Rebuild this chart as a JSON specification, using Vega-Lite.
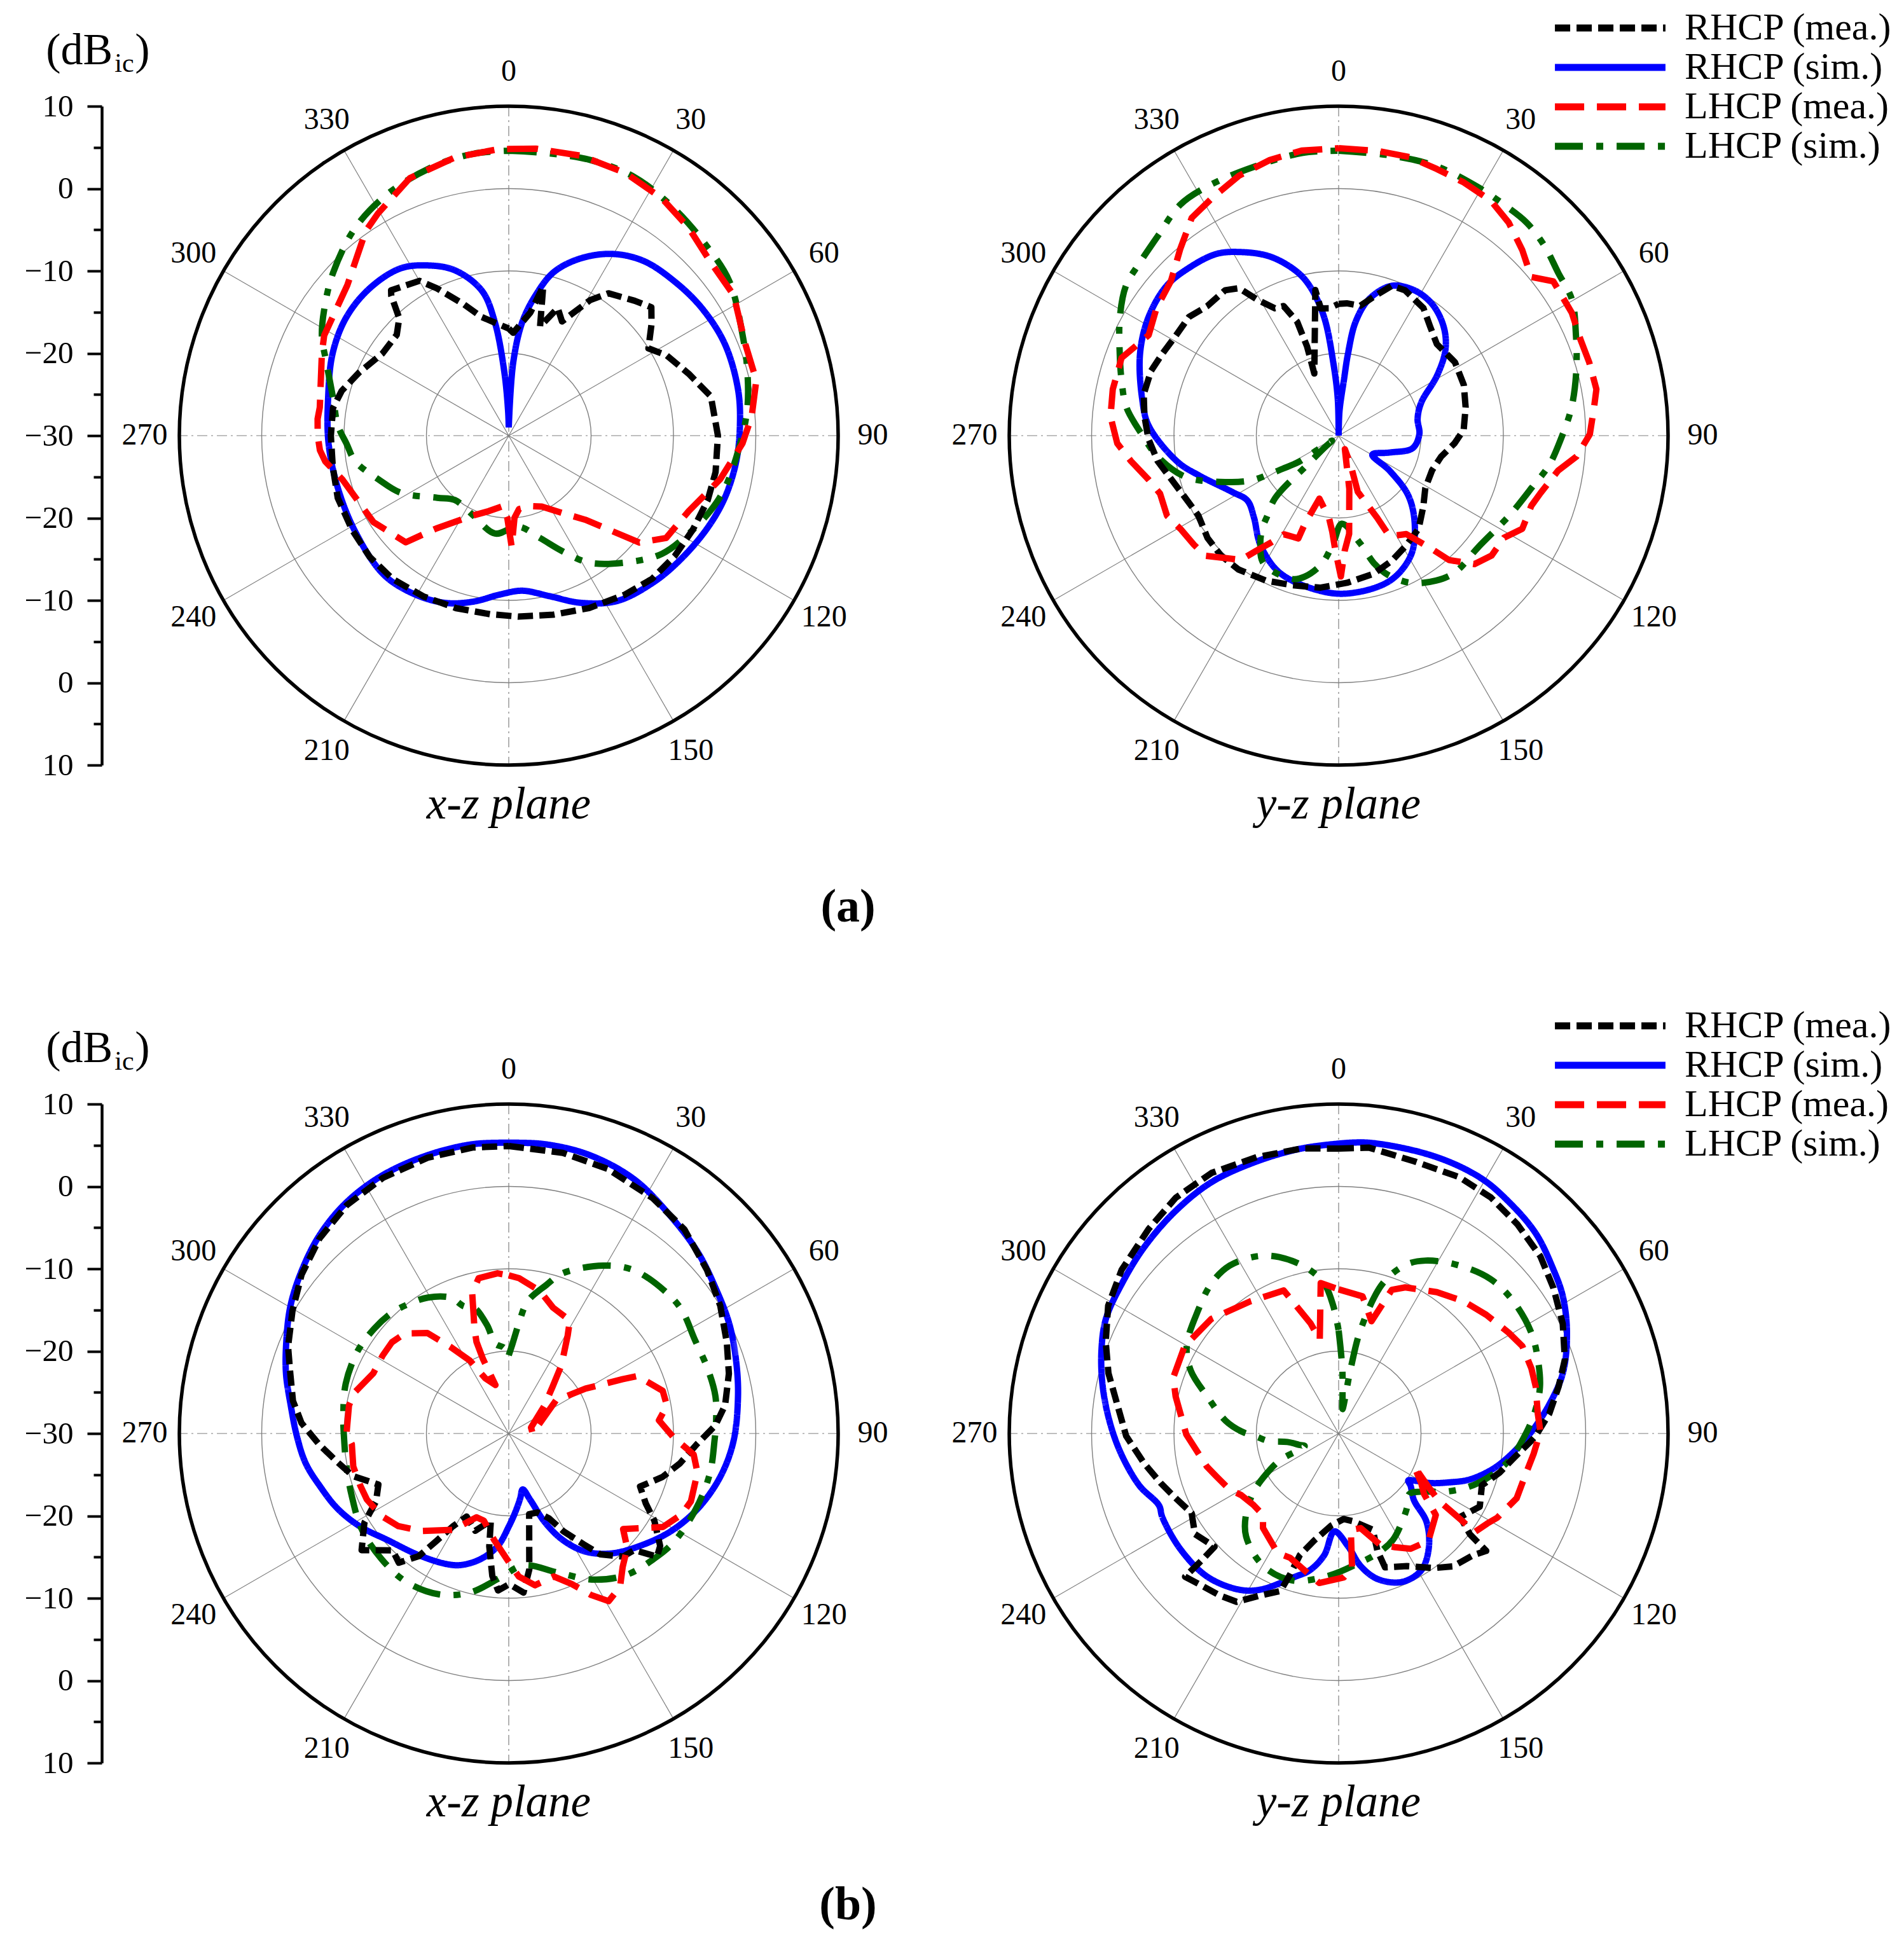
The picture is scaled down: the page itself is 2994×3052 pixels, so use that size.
{
"$schema":"https://vega.github.io/schema/vega-lite/v6.json",
"autosize":{"type":"none"},
"padding":{"left":282,"top":167,"right":2712,"bottom":2885},
"background":"white",
"config":{"view":{"stroke":null},"font":"Liberation Serif"},
"datasets":{
"rings":[{"r":10},{"r":20},{"r":30}],
"outer":[{"r":40}],
"spokes":[{"a":0},{"a":30},{"a":60},{"a":90},{"a":120},{"a":150}],
"ticks":[{"a":0},{"a":30},{"a":60},{"a":90},{"a":120},{"a":150},{"a":210},{"a":240},{"a":270},{"a":300},{"a":330}],
"curves":[
{"p":"a1","s":"Rs","a":0,"v":-29},{"p":"a1","s":"Rs","a":3.5,"v":-21.1},{"p":"a1","s":"Rs","a":6.8,"v":-16.1},{"p":"a1","s":"Rs","a":10.9,"v":-12.6},{"p":"a1","s":"Rs","a":15.4,"v":-9.4},{"p":"a1","s":"Rs","a":22,"v":-6.8},{"p":"a1","s":"Rs","a":29.7,"v":-4.6},{"p":"a1","s":"Rs","a":37.7,"v":-3.2},{"p":"a1","s":"Rs","a":47.2,"v":-2.5},{"p":"a1","s":"Rs","a":56.6,"v":-1.9},{"p":"a1","s":"Rs","a":67,"v":-1.5},{"p":"a1","s":"Rs","a":78.6,"v":-1.6},{"p":"a1","s":"Rs","a":87.4,"v":-1.9},{"p":"a1","s":"Rs","a":96.4,"v":-2.2},{"p":"a1","s":"Rs","a":106,"v":-2.7},{"p":"a1","s":"Rs","a":115,"v":-3.4},{"p":"a1","s":"Rs","a":126,"v":-4.3},{"p":"a1","s":"Rs","a":135.6,"v":-5},{"p":"a1","s":"Rs","a":146.8,"v":-6},{"p":"a1","s":"Rs","a":156.7,"v":-7.9},{"p":"a1","s":"Rs","a":165.8,"v":-9.9},{"p":"a1","s":"Rs","a":175,"v":-11.1},{"p":"a1","s":"Rs","a":183,"v":-10.7},{"p":"a1","s":"Rs","a":192,"v":-9.4},{"p":"a1","s":"Rs","a":200.6,"v":-8.3},{"p":"a1","s":"Rs","a":210.8,"v":-7.6},{"p":"a1","s":"Rs","a":222,"v":-7.3},{"p":"a1","s":"Rs","a":237.5,"v":-8},{"p":"a1","s":"Rs","a":253,"v":-8.3},{"p":"a1","s":"Rs","a":267.6,"v":-8.1},{"p":"a1","s":"Rs","a":281.7,"v":-7.6},{"p":"a1","s":"Rs","a":295,"v":-6.4},{"p":"a1","s":"Rs","a":306,"v":-5.6},{"p":"a1","s":"Rs","a":316.6,"v":-5.4},{"p":"a1","s":"Rs","a":327,"v":-5.8},{"p":"a1","s":"Rs","a":334.5,"v":-7.1},{"p":"a1","s":"Rs","a":342,"v":-8.9},{"p":"a1","s":"Rs","a":349.5,"v":-12.1},{"p":"a1","s":"Rs","a":353,"v":-16.1},{"p":"a1","s":"Rs","a":356,"v":-22.2},{"p":"a1","s":"Rs","a":358.5,"v":-27},{"p":"a1","s":"Rs","a":360,"v":-29},
{"p":"a1","s":"Ls","a":0,"v":4.6},{"p":"a1","s":"Ls","a":7.3,"v":4.6},{"p":"a1","s":"Ls","a":16.4,"v":4.9},{"p":"a1","s":"Ls","a":26,"v":4.9},{"p":"a1","s":"Ls","a":36.3,"v":4.1},{"p":"a1","s":"Ls","a":46,"v":3.3},{"p":"a1","s":"Ls","a":55,"v":2.7},{"p":"a1","s":"Ls","a":66.8,"v":0.9},{"p":"a1","s":"Ls","a":75,"v":0},{"p":"a1","s":"Ls","a":84,"v":-0.9},{"p":"a1","s":"Ls","a":94,"v":-2.1},{"p":"a1","s":"Ls","a":103.7,"v":-3},{"p":"a1","s":"Ls","a":110,"v":-3.8},{"p":"a1","s":"Ls","a":118.5,"v":-5.1},{"p":"a1","s":"Ls","a":127.6,"v":-6.5},{"p":"a1","s":"Ls","a":136,"v":-8.7},{"p":"a1","s":"Ls","a":147.5,"v":-11.7},{"p":"a1","s":"Ls","a":155,"v":-14.5},{"p":"a1","s":"Ls","a":163,"v":-17},{"p":"a1","s":"Ls","a":174,"v":-18.9},{"p":"a1","s":"Ls","a":188,"v":-18},{"p":"a1","s":"Ls","a":204,"v":-19.4},{"p":"a1","s":"Ls","a":220,"v":-19.8},{"p":"a1","s":"Ls","a":229,"v":-18.5},{"p":"a1","s":"Ls","a":242,"v":-15.2},{"p":"a1","s":"Ls","a":251.5,"v":-13.3},{"p":"a1","s":"Ls","a":260.5,"v":-11.1},{"p":"a1","s":"Ls","a":267,"v":-10.3},{"p":"a1","s":"Ls","a":273.5,"v":-9.2},{"p":"a1","s":"Ls","a":282,"v":-8.2},{"p":"a1","s":"Ls","a":292,"v":-6.1},{"p":"a1","s":"Ls","a":298,"v":-4.3},{"p":"a1","s":"Ls","a":304.6,"v":-2.8},{"p":"a1","s":"Ls","a":312.9,"v":-0.9},{"p":"a1","s":"Ls","a":323.7,"v":1.4},{"p":"a1","s":"Ls","a":334,"v":2.9},{"p":"a1","s":"Ls","a":345,"v":4},{"p":"a1","s":"Ls","a":353,"v":4.5},{"p":"a1","s":"Ls","a":360,"v":4.6},
{"p":"a1","s":"Rm","a":0,"v":-17},{"p":"a1","s":"Rm","a":2.5,"v":-17.5},{"p":"a1","s":"Rm","a":10,"v":-14.8},{"p":"a1","s":"Rm","a":13,"v":-11.4},{"p":"a1","s":"Rm","a":16,"v":-16.2},{"p":"a1","s":"Rm","a":21,"v":-13.4},{"p":"a1","s":"Rm","a":25,"v":-14.7},{"p":"a1","s":"Rm","a":31,"v":-10.8},{"p":"a1","s":"Rm","a":35,"v":-8.9},{"p":"a1","s":"Rm","a":43,"v":-7.6},{"p":"a1","s":"Rm","a":48,"v":-6.7},{"p":"a1","s":"Rm","a":52,"v":-8},{"p":"a1","s":"Rm","a":58,"v":-10},{"p":"a1","s":"Rm","a":63,"v":-8.5},{"p":"a1","s":"Rm","a":71,"v":-6.9},{"p":"a1","s":"Rm","a":79,"v":-5},{"p":"a1","s":"Rm","a":90,"v":-4.6},{"p":"a1","s":"Rm","a":100,"v":-4.5},{"p":"a1","s":"Rm","a":108,"v":-4.6},{"p":"a1","s":"Rm","a":117,"v":-4.9},{"p":"a1","s":"Rm","a":126,"v":-5.1},{"p":"a1","s":"Rm","a":135,"v":-5.4},{"p":"a1","s":"Rm","a":144,"v":-6.1},{"p":"a1","s":"Rm","a":155,"v":-6.9},{"p":"a1","s":"Rm","a":166,"v":-7.6},{"p":"a1","s":"Rm","a":177,"v":-8},{"p":"a1","s":"Rm","a":186,"v":-8.2},{"p":"a1","s":"Rm","a":197,"v":-8.1},{"p":"a1","s":"Rm","a":208,"v":-7.9},{"p":"a1","s":"Rm","a":219,"v":-7.6},{"p":"a1","s":"Rm","a":229,"v":-7.6},{"p":"a1","s":"Rm","a":239,"v":-7.8},{"p":"a1","s":"Rm","a":250,"v":-7.9},{"p":"a1","s":"Rm","a":260,"v":-8.3},{"p":"a1","s":"Rm","a":270,"v":-8.4},{"p":"a1","s":"Rm","a":279,"v":-8.4},{"p":"a1","s":"Rm","a":285,"v":-9},{"p":"a1","s":"Rm","a":293,"v":-10.3},{"p":"a1","s":"Rm","a":303,"v":-11.7},{"p":"a1","s":"Rm","a":312,"v":-11.7},{"p":"a1","s":"Rm","a":317,"v":-10.5},{"p":"a1","s":"Rm","a":320,"v":-7.8},{"p":"a1","s":"Rm","a":321,"v":-7.3},{"p":"a1","s":"Rm","a":330,"v":-8.3},{"p":"a1","s":"Rm","a":334,"v":-10.1},{"p":"a1","s":"Rm","a":341,"v":-13.1},{"p":"a1","s":"Rm","a":347,"v":-15.2},{"p":"a1","s":"Rm","a":360,"v":-17},
{"p":"a1","s":"Lm","a":0,"v":4.8},{"p":"a1","s":"Lm","a":5.4,"v":5},{"p":"a1","s":"Lm","a":14.4,"v":5.1},{"p":"a1","s":"Lm","a":24,"v":4.9},{"p":"a1","s":"Lm","a":32.8,"v":4.3},{"p":"a1","s":"Lm","a":40.8,"v":3.4},{"p":"a1","s":"Lm","a":49.6,"v":2.3},{"p":"a1","s":"Lm","a":58,"v":2.2},{"p":"a1","s":"Lm","a":68.9,"v":0.8},{"p":"a1","s":"Lm","a":77.4,"v":0.8},{"p":"a1","s":"Lm","a":85.4,"v":-0.4},{"p":"a1","s":"Lm","a":91.9,"v":-1.6},{"p":"a1","s":"Lm","a":101.7,"v":-3.8},{"p":"a1","s":"Lm","a":112.7,"v":-6.3},{"p":"a1","s":"Lm","a":123,"v":-7.2},{"p":"a1","s":"Lm","a":129.3,"v":-9.5},{"p":"a1","s":"Lm","a":137.7,"v":-16.2},{"p":"a1","s":"Lm","a":145,"v":-18.5},{"p":"a1","s":"Lm","a":155,"v":-20.5},{"p":"a1","s":"Lm","a":162,"v":-21},{"p":"a1","s":"Lm","a":172,"v":-21},{"p":"a1","s":"Lm","a":176,"v":-20},{"p":"a1","s":"Lm","a":178.5,"v":-16.5},{"p":"a1","s":"Lm","a":181,"v":-20},{"p":"a1","s":"Lm","a":185,"v":-21.4},{"p":"a1","s":"Lm","a":195,"v":-20.5},{"p":"a1","s":"Lm","a":204,"v":-19.4},{"p":"a1","s":"Lm","a":218,"v":-15.7},{"p":"a1","s":"Lm","a":224,"v":-12},{"p":"a1","s":"Lm","a":237.4,"v":-10.5},{"p":"a1","s":"Lm","a":255.3,"v":-9.1},{"p":"a1","s":"Lm","a":262,"v":-7.5},{"p":"a1","s":"Lm","a":265.6,"v":-7},{"p":"a1","s":"Lm","a":270,"v":-6.8},{"p":"a1","s":"Lm","a":275,"v":-6.7},{"p":"a1","s":"Lm","a":278.5,"v":-6.8},{"p":"a1","s":"Lm","a":293.8,"v":-5.2},{"p":"a1","s":"Lm","a":298.5,"v":-4.5},{"p":"a1","s":"Lm","a":313,"v":-3.2},{"p":"a1","s":"Lm","a":325,"v":0.3},{"p":"a1","s":"Lm","a":329.5,"v":1.3},{"p":"a1","s":"Lm","a":339,"v":3.5},{"p":"a1","s":"Lm","a":349,"v":4.4},{"p":"a1","s":"Lm","a":357.3,"v":4.75},{"p":"a1","s":"Lm","a":360,"v":4.8},
{"p":"a2","s":"Rs","a":0,"v":-30},{"p":"a2","s":"Rs","a":2,"v":-27},{"p":"a2","s":"Rs","a":5.5,"v":-23},{"p":"a2","s":"Rs","a":6.5,"v":-20},{"p":"a2","s":"Rs","a":8.5,"v":-16},{"p":"a2","s":"Rs","a":12.6,"v":-13},{"p":"a2","s":"Rs","a":19.5,"v":-10.7},{"p":"a2","s":"Rs","a":27.5,"v":-10.1},{"p":"a2","s":"Rs","a":35.4,"v":-10.4},{"p":"a2","s":"Rs","a":43.8,"v":-11.6},{"p":"a2","s":"Rs","a":51,"v":-13.3},{"p":"a2","s":"Rs","a":58.6,"v":-16},{"p":"a2","s":"Rs","a":68.2,"v":-19.2},{"p":"a2","s":"Rs","a":78,"v":-20.2},{"p":"a2","s":"Rs","a":89,"v":-20.2},{"p":"a2","s":"Rs","a":99.7,"v":-20.9},{"p":"a2","s":"Rs","a":108.4,"v":-23.5},{"p":"a2","s":"Rs","a":119.4,"v":-25.3},{"p":"a2","s":"Rs","a":124.5,"v":-22.5},{"p":"a2","s":"Rs","a":130.8,"v":-18.8},{"p":"a2","s":"Rs","a":139.7,"v":-15.7},{"p":"a2","s":"Rs","a":149,"v":-13},{"p":"a2","s":"Rs","a":160.7,"v":-11.3},{"p":"a2","s":"Rs","a":176.9,"v":-10.8},{"p":"a2","s":"Rs","a":188.6,"v":-11.1},{"p":"a2","s":"Rs","a":203.5,"v":-11.9},{"p":"a2","s":"Rs","a":215.7,"v":-13.7},{"p":"a2","s":"Rs","a":226,"v":-15.7},{"p":"a2","s":"Rs","a":234.6,"v":-16.4},{"p":"a2","s":"Rs","a":242,"v":-15.4},{"p":"a2","s":"Rs","a":254,"v":-12.4},{"p":"a2","s":"Rs","a":260.7,"v":-10.2},{"p":"a2","s":"Rs","a":273,"v":-6.9},{"p":"a2","s":"Rs","a":280.8,"v":-5.7},{"p":"a2","s":"Rs","a":292.5,"v":-3.9},{"p":"a2","s":"Rs","a":301.9,"v":-2.8},{"p":"a2","s":"Rs","a":311,"v":-2.3},{"p":"a2","s":"Rs","a":318.3,"v":-2.7},{"p":"a2","s":"Rs","a":326,"v":-3.4},{"p":"a2","s":"Rs","a":331.4,"v":-4.6},{"p":"a2","s":"Rs","a":339,"v":-6.7},{"p":"a2","s":"Rs","a":345.8,"v":-9.5},{"p":"a2","s":"Rs","a":349.3,"v":-11.7},{"p":"a2","s":"Rs","a":353,"v":-15.5},{"p":"a2","s":"Rs","a":355.8,"v":-21.1},{"p":"a2","s":"Rs","a":358.6,"v":-25.5},{"p":"a2","s":"Rs","a":360,"v":-30},
{"p":"a2","s":"Ls","a":0,"v":4.6},{"p":"a2","s":"Ls","a":10.7,"v":4.6},{"p":"a2","s":"Ls","a":20,"v":4.8},{"p":"a2","s":"Ls","a":29,"v":4.6},{"p":"a2","s":"Ls","a":35.6,"v":4.5},{"p":"a2","s":"Ls","a":41.5,"v":4.5},{"p":"a2","s":"Ls","a":47.3,"v":4},{"p":"a2","s":"Ls","a":53.4,"v":3.2},{"p":"a2","s":"Ls","a":59.7,"v":2.8},{"p":"a2","s":"Ls","a":67,"v":1.3},{"p":"a2","s":"Ls","a":74.8,"v":-0.1},{"p":"a2","s":"Ls","a":83,"v":-1.5},{"p":"a2","s":"Ls","a":90.8,"v":-3},{"p":"a2","s":"Ls","a":98,"v":-4.2},{"p":"a2","s":"Ls","a":105,"v":-5.7},{"p":"a2","s":"Ls","a":113.3,"v":-6.9},{"p":"a2","s":"Ls","a":118.3,"v":-7.5},{"p":"a2","s":"Ls","a":128.5,"v":-8.3},{"p":"a2","s":"Ls","a":139.5,"v":-8.2},{"p":"a2","s":"Ls","a":146.1,"v":-8.8},{"p":"a2","s":"Ls","a":153.9,"v":-10.1},{"p":"a2","s":"Ls","a":160.6,"v":-12.1},{"p":"a2","s":"Ls","a":164.3,"v":-13.8},{"p":"a2","s":"Ls","a":168.8,"v":-16.7},{"p":"a2","s":"Ls","a":177.9,"v":-19.3},{"p":"a2","s":"Ls","a":182.8,"v":-17},{"p":"a2","s":"Ls","a":187.5,"v":-14.3},{"p":"a2","s":"Ls","a":193.5,"v":-12.4},{"p":"a2","s":"Ls","a":198,"v":-11.7},{"p":"a2","s":"Ls","a":210.4,"v":-12},{"p":"a2","s":"Ls","a":216.2,"v":-13.9},{"p":"a2","s":"Ls","a":219.6,"v":-15.5},{"p":"a2","s":"Ls","a":221.4,"v":-16.8},{"p":"a2","s":"Ls","a":225.5,"v":-19.2},{"p":"a2","s":"Ls","a":227,"v":-24.7},{"p":"a2","s":"Ls","a":229.8,"v":-27.8},{"p":"a2","s":"Ls","a":233,"v":-29},{"p":"a2","s":"Ls","a":236.3,"v":-27.2},{"p":"a2","s":"Ls","a":236.7,"v":-24.2},{"p":"a2","s":"Ls","a":239,"v":-22.5},{"p":"a2","s":"Ls","a":240.6,"v":-20.8},{"p":"a2","s":"Ls","a":242.9,"v":-18.1},{"p":"a2","s":"Ls","a":247.3,"v":-15.4},{"p":"a2","s":"Ls","a":254.8,"v":-10.8},{"p":"a2","s":"Ls","a":263.3,"v":-7.9},{"p":"a2","s":"Ls","a":270.4,"v":-6.1},{"p":"a2","s":"Ls","a":277.6,"v":-4},{"p":"a2","s":"Ls","a":284.3,"v":-2.8},{"p":"a2","s":"Ls","a":290.6,"v":-1.6},{"p":"a2","s":"Ls","a":298.4,"v":0.2},{"p":"a2","s":"Ls","a":305.2,"v":1.6},{"p":"a2","s":"Ls","a":311,"v":2},{"p":"a2","s":"Ls","a":317.8,"v":2.7},{"p":"a2","s":"Ls","a":325.5,"v":4},{"p":"a2","s":"Ls","a":332,"v":4.2},{"p":"a2","s":"Ls","a":341,"v":4.2},{"p":"a2","s":"Ls","a":352.6,"v":4.6},{"p":"a2","s":"Ls","a":360,"v":4.6},
{"p":"a2","s":"Rm","a":0,"v":-14},{"p":"a2","s":"Rm","a":3.5,"v":-13.9},{"p":"a2","s":"Rm","a":9.5,"v":-14},{"p":"a2","s":"Rm","a":14.2,"v":-12.6},{"p":"a2","s":"Rm","a":19.5,"v":-10.7},{"p":"a2","s":"Rm","a":24.6,"v":-10.6},{"p":"a2","s":"Rm","a":33.6,"v":-11.4},{"p":"a2","s":"Rm","a":39.9,"v":-12.7},{"p":"a2","s":"Rm","a":47,"v":-13.7},{"p":"a2","s":"Rm","a":57.7,"v":-13.3},{"p":"a2","s":"Rm","a":67.9,"v":-13.6},{"p":"a2","s":"Rm","a":77.4,"v":-14.2},{"p":"a2","s":"Rm","a":87.3,"v":-14.8},{"p":"a2","s":"Rm","a":93.8,"v":-15.9},{"p":"a2","s":"Rm","a":101.6,"v":-17.3},{"p":"a2","s":"Rm","a":110.3,"v":-17.9},{"p":"a2","s":"Rm","a":121.2,"v":-17.7},{"p":"a2","s":"Rm","a":129.9,"v":-16.6},{"p":"a2","s":"Rm","a":139.3,"v":-15.1},{"p":"a2","s":"Rm","a":149,"v":-14.3},{"p":"a2","s":"Rm","a":156.9,"v":-13.5},{"p":"a2","s":"Rm","a":165.7,"v":-12.7},{"p":"a2","s":"Rm","a":176.8,"v":-12.1},{"p":"a2","s":"Rm","a":187,"v":-11.4},{"p":"a2","s":"Rm","a":197,"v":-11},{"p":"a2","s":"Rm","a":206.7,"v":-10.3},{"p":"a2","s":"Rm","a":216.8,"v":-9.7},{"p":"a2","s":"Rm","a":224.5,"v":-9.6},{"p":"a2","s":"Rm","a":232,"v":-9.8},{"p":"a2","s":"Rm","a":240.4,"v":-10.4},{"p":"a2","s":"Rm","a":248,"v":-9.9},{"p":"a2","s":"Rm","a":255.4,"v":-9},{"p":"a2","s":"Rm","a":262,"v":-7.8},{"p":"a2","s":"Rm","a":269,"v":-6.9},{"p":"a2","s":"Rm","a":275.7,"v":-6.3},{"p":"a2","s":"Rm","a":282,"v":-5.8},{"p":"a2","s":"Rm","a":289,"v":-5.9},{"p":"a2","s":"Rm","a":295,"v":-6.4},{"p":"a2","s":"Rm","a":301.6,"v":-6.8},{"p":"a2","s":"Rm","a":308.4,"v":-6.8},{"p":"a2","s":"Rm","a":314.6,"v":-7.6},{"p":"a2","s":"Rm","a":322,"v":-7.6},{"p":"a2","s":"Rm","a":326,"v":-8.4},{"p":"a2","s":"Rm","a":329,"v":-10.7},{"p":"a2","s":"Rm","a":333.4,"v":-12.7},{"p":"a2","s":"Rm","a":337,"v":-12.9},{"p":"a2","s":"Rm","a":340,"v":-15.3},{"p":"a2","s":"Rm","a":340.5,"v":-18.5},{"p":"a2","s":"Rm","a":338.6,"v":-21.9},{"p":"a2","s":"Rm","a":350.9,"v":-12.1},{"p":"a2","s":"Rm","a":352,"v":-14.4},{"p":"a2","s":"Rm","a":355.6,"v":-14.5},{"p":"a2","s":"Rm","a":360,"v":-14},
{"p":"a2","s":"Lm","a":0,"v":4.9},{"p":"a2","s":"Lm","a":7.9,"v":4.9},{"p":"a2","s":"Lm","a":14.3,"v":4.9},{"p":"a2","s":"Lm","a":20.2,"v":4.5},{"p":"a2","s":"Lm","a":26.3,"v":4.3},{"p":"a2","s":"Lm","a":32.9,"v":4},{"p":"a2","s":"Lm","a":38.6,"v":3.1},{"p":"a2","s":"Lm","a":44.7,"v":1.7},{"p":"a2","s":"Lm","a":50.5,"v":0.3},{"p":"a2","s":"Lm","a":54.3,"v":2.1},{"p":"a2","s":"Lm","a":62.2,"v":2},{"p":"a2","s":"Lm","a":68.4,"v":1.6},{"p":"a2","s":"Lm","a":73.7,"v":1.7},{"p":"a2","s":"Lm","a":79.8,"v":1.8},{"p":"a2","s":"Lm","a":83.7,"v":1.2},{"p":"a2","s":"Lm","a":89.7,"v":0.5},{"p":"a2","s":"Lm","a":95,"v":-1},{"p":"a2","s":"Lm","a":99,"v":-3},{"p":"a2","s":"Lm","a":105.8,"v":-4.5},{"p":"a2","s":"Lm","a":110,"v":-5.1},{"p":"a2","s":"Lm","a":116.9,"v":-5},{"p":"a2","s":"Lm","a":121.7,"v":-6.4},{"p":"a2","s":"Lm","a":128.1,"v":-6.4},{"p":"a2","s":"Lm","a":133.4,"v":-7.3},{"p":"a2","s":"Lm","a":138.4,"v":-9.8},{"p":"a2","s":"Lm","a":140.6,"v":-12.2},{"p":"a2","s":"Lm","a":145.5,"v":-15.5},{"p":"a2","s":"Lm","a":153.2,"v":-16.3},{"p":"a2","s":"Lm","a":154.9,"v":-19},{"p":"a2","s":"Lm","a":161.2,"v":-22.8},{"p":"a2","s":"Lm","a":158,"v":-26},{"p":"a2","s":"Lm","a":155.2,"v":-28.2},{"p":"a2","s":"Lm","a":168.7,"v":-23.4},{"p":"a2","s":"Lm","a":172.8,"v":-19.8},{"p":"a2","s":"Lm","a":173.9,"v":-18},{"p":"a2","s":"Lm","a":177,"v":-16},{"p":"a2","s":"Lm","a":179.1,"v":-12.9},{"p":"a2","s":"Lm","a":181.6,"v":-16},{"p":"a2","s":"Lm","a":183.8,"v":-18.3},{"p":"a2","s":"Lm","a":186.6,"v":-19.9},{"p":"a2","s":"Lm","a":197,"v":-22},{"p":"a2","s":"Lm","a":201,"v":-18.5},{"p":"a2","s":"Lm","a":201.4,"v":-16.6},{"p":"a2","s":"Lm","a":209,"v":-16.3},{"p":"a2","s":"Lm","a":212.4,"v":-14.6},{"p":"a2","s":"Lm","a":215.6,"v":-12.8},{"p":"a2","s":"Lm","a":218.2,"v":-10.8},{"p":"a2","s":"Lm","a":228,"v":-8.2},{"p":"a2","s":"Lm","a":233,"v":-8},{"p":"a2","s":"Lm","a":239.5,"v":-7.7},{"p":"a2","s":"Lm","a":245,"v":-7},{"p":"a2","s":"Lm","a":252,"v":-7.2},{"p":"a2","s":"Lm","a":257,"v":-6.3},{"p":"a2","s":"Lm","a":263,"v":-4.6},{"p":"a2","s":"Lm","a":268,"v":-3.1},{"p":"a2","s":"Lm","a":274.8,"v":-2.2},{"p":"a2","s":"Lm","a":281.6,"v":-2},{"p":"a2","s":"Lm","a":289.7,"v":-2},{"p":"a2","s":"Lm","a":297.9,"v":-3.9},{"p":"a2","s":"Lm","a":305,"v":-3},{"p":"a2","s":"Lm","a":312.7,"v":-2.3},{"p":"a2","s":"Lm","a":319.6,"v":-0.3},{"p":"a2","s":"Lm","a":326,"v":1.9},{"p":"a2","s":"Lm","a":332,"v":2.7},{"p":"a2","s":"Lm","a":339,"v":3.8},{"p":"a2","s":"Lm","a":346,"v":4.5},{"p":"a2","s":"Lm","a":352.6,"v":4.9},{"p":"a2","s":"Lm","a":360,"v":4.9},
{"p":"b1","s":"Rs","a":0,"v":5.3},{"p":"b1","s":"Rs","a":7.1,"v":5.4},{"p":"b1","s":"Rs","a":16.2,"v":5.2},{"p":"b1","s":"Rs","a":26.4,"v":4.4},{"p":"b1","s":"Rs","a":36.7,"v":2.9},{"p":"b1","s":"Rs","a":46.2,"v":1.8},{"p":"b1","s":"Rs","a":54.9,"v":0.7},{"p":"b1","s":"Rs","a":63.6,"v":-0.1},{"p":"b1","s":"Rs","a":72.1,"v":-1},{"p":"b1","s":"Rs","a":80.8,"v":-1.8},{"p":"b1","s":"Rs","a":92,"v":-2.7},{"p":"b1","s":"Rs","a":101.7,"v":-3.8},{"p":"b1","s":"Rs","a":111.7,"v":-5.3},{"p":"b1","s":"Rs","a":121,"v":-7},{"p":"b1","s":"Rs","a":129.5,"v":-8.8},{"p":"b1","s":"Rs","a":139.3,"v":-10.8},{"p":"b1","s":"Rs","a":147,"v":-12.9},{"p":"b1","s":"Rs","a":153.1,"v":-15.5},{"p":"b1","s":"Rs","a":157.9,"v":-18.4},{"p":"b1","s":"Rs","a":162,"v":-21.5},{"p":"b1","s":"Rs","a":166,"v":-23},{"p":"b1","s":"Rs","a":170,"v":-22},{"p":"b1","s":"Rs","a":175,"v":-20.5},{"p":"b1","s":"Rs","a":180,"v":-18.7},{"p":"b1","s":"Rs","a":185.5,"v":-16.3},{"p":"b1","s":"Rs","a":192.5,"v":-14.4},{"p":"b1","s":"Rs","a":200,"v":-13},{"p":"b1","s":"Rs","a":206,"v":-12.4},{"p":"b1","s":"Rs","a":216.8,"v":-11.6},{"p":"b1","s":"Rs","a":228.7,"v":-10.4},{"p":"b1","s":"Rs","a":238,"v":-8.7},{"p":"b1","s":"Rs","a":246.3,"v":-7.3},{"p":"b1","s":"Rs","a":254.4,"v":-6.2},{"p":"b1","s":"Rs","a":261.5,"v":-5.1},{"p":"b1","s":"Rs","a":269,"v":-4.3},{"p":"b1","s":"Rs","a":277.4,"v":-3.3},{"p":"b1","s":"Rs","a":285,"v":-2},{"p":"b1","s":"Rs","a":292.3,"v":-0.8},{"p":"b1","s":"Rs","a":300.3,"v":0.7},{"p":"b1","s":"Rs","a":308.3,"v":2},{"p":"b1","s":"Rs","a":316.5,"v":3.3},{"p":"b1","s":"Rs","a":325,"v":4.3},{"p":"b1","s":"Rs","a":334,"v":4.9},{"p":"b1","s":"Rs","a":343.8,"v":5.2},{"p":"b1","s":"Rs","a":352.9,"v":5.4},{"p":"b1","s":"Rs","a":360,"v":5.3},
{"p":"b1","s":"Ls","a":0,"v":-20.5},{"p":"b1","s":"Ls","a":2.4,"v":-19.1},{"p":"b1","s":"Ls","a":5.3,"v":-16.5},{"p":"b1","s":"Ls","a":8.1,"v":-13.8},{"p":"b1","s":"Ls","a":14.2,"v":-11.4},{"p":"b1","s":"Ls","a":18.5,"v":-9.5},{"p":"b1","s":"Ls","a":29.4,"v":-6.6},{"p":"b1","s":"Ls","a":37.6,"v":-5},{"p":"b1","s":"Ls","a":48.5,"v":-4.3},{"p":"b1","s":"Ls","a":54.6,"v":-4.2},{"p":"b1","s":"Ls","a":63.3,"v":-4.7},{"p":"b1","s":"Ls","a":72,"v":-4.6},{"p":"b1","s":"Ls","a":79.8,"v":-4.5},{"p":"b1","s":"Ls","a":87.1,"v":-4.8},{"p":"b1","s":"Ls","a":92,"v":-5},{"p":"b1","s":"Ls","a":101.3,"v":-5.1},{"p":"b1","s":"Ls","a":112,"v":-5.5},{"p":"b1","s":"Ls","a":123.2,"v":-6},{"p":"b1","s":"Ls","a":130.7,"v":-6.7},{"p":"b1","s":"Ls","a":140.5,"v":-7.7},{"p":"b1","s":"Ls","a":150.4,"v":-9.6},{"p":"b1","s":"Ls","a":160.6,"v":-12.1},{"p":"b1","s":"Ls","a":173.6,"v":-13.9},{"p":"b1","s":"Ls","a":183.2,"v":-12.5},{"p":"b1","s":"Ls","a":193.8,"v":-10.1},{"p":"b1","s":"Ls","a":203.6,"v":-8.7},{"p":"b1","s":"Ls","a":214.8,"v":-8.1},{"p":"b1","s":"Ls","a":225.5,"v":-8.3},{"p":"b1","s":"Ls","a":237,"v":-8.7},{"p":"b1","s":"Ls","a":248.6,"v":-9.5},{"p":"b1","s":"Ls","a":258.9,"v":-9.9},{"p":"b1","s":"Ls","a":267.8,"v":-10},{"p":"b1","s":"Ls","a":276,"v":-9.8},{"p":"b1","s":"Ls","a":287,"v":-9.3},{"p":"b1","s":"Ls","a":298.6,"v":-9.1},{"p":"b1","s":"Ls","a":308,"v":-9.3},{"p":"b1","s":"Ls","a":315.9,"v":-9.6},{"p":"b1","s":"Ls","a":322,"v":-10.1},{"p":"b1","s":"Ls","a":329.3,"v":-10.8},{"p":"b1","s":"Ls","a":337,"v":-12.1},{"p":"b1","s":"Ls","a":340.5,"v":-13.6},{"p":"b1","s":"Ls","a":344.7,"v":-14.2},{"p":"b1","s":"Ls","a":348.7,"v":-16.6},{"p":"b1","s":"Ls","a":351.6,"v":-19},{"p":"b1","s":"Ls","a":356.9,"v":-19.6},{"p":"b1","s":"Ls","a":358.1,"v":-20.7},{"p":"b1","s":"Ls","a":360,"v":-20.5},
{"p":"b1","s":"Rm","a":0,"v":4.9},{"p":"b1","s":"Rm","a":10.9,"v":4.7},{"p":"b1","s":"Rm","a":20.5,"v":4.3},{"p":"b1","s":"Rm","a":31.5,"v":3.5},{"p":"b1","s":"Rm","a":40.7,"v":2.7},{"p":"b1","s":"Rm","a":50.5,"v":1.2},{"p":"b1","s":"Rm","a":58.9,"v":0},{"p":"b1","s":"Rm","a":67.3,"v":-1.3},{"p":"b1","s":"Rm","a":74.8,"v":-2.3},{"p":"b1","s":"Rm","a":82.5,"v":-3.5},{"p":"b1","s":"Rm","a":87.8,"v":-4.9},{"p":"b1","s":"Rm","a":93.2,"v":-7.1},{"p":"b1","s":"Rm","a":99.9,"v":-8.9},{"p":"b1","s":"Rm","a":105.8,"v":-10.6},{"p":"b1","s":"Rm","a":112,"v":-12.8},{"p":"b1","s":"Rm","a":117.1,"v":-11.3},{"p":"b1","s":"Rm","a":120.9,"v":-9.4},{"p":"b1","s":"Rm","a":126.6,"v":-7.1},{"p":"b1","s":"Rm","a":129.7,"v":-6.6},{"p":"b1","s":"Rm","a":132.9,"v":-9.2},{"p":"b1","s":"Rm","a":137.1,"v":-9.6},{"p":"b1","s":"Rm","a":142.9,"v":-11.6},{"p":"b1","s":"Rm","a":146,"v":-13.8},{"p":"b1","s":"Rm","a":150.8,"v":-16.4},{"p":"b1","s":"Rm","a":154.6,"v":-18.6},{"p":"b1","s":"Rm","a":160,"v":-19.8},{"p":"b1","s":"Rm","a":165.8,"v":-19.9},{"p":"b1","s":"Rm","a":169.7,"v":-16.1},{"p":"b1","s":"Rm","a":171.4,"v":-13.3},{"p":"b1","s":"Rm","a":174.7,"v":-10.6},{"p":"b1","s":"Rm","a":179.8,"v":-11.7},{"p":"b1","s":"Rm","a":183.9,"v":-10.9},{"p":"b1","s":"Rm","a":186.6,"v":-12.6},{"p":"b1","s":"Rm","a":189.8,"v":-16.1},{"p":"b1","s":"Rm","a":191.6,"v":-19.2},{"p":"b1","s":"Rm","a":199,"v":-17.5},{"p":"b1","s":"Rm","a":206.9,"v":-18.7},{"p":"b1","s":"Rm","a":211.1,"v":-16.8},{"p":"b1","s":"Rm","a":214.1,"v":-14.1},{"p":"b1","s":"Rm","a":216.3,"v":-11.5},{"p":"b1","s":"Rm","a":220.4,"v":-9.4},{"p":"b1","s":"Rm","a":224.8,"v":-10},{"p":"b1","s":"Rm","a":231.6,"v":-7.2},{"p":"b1","s":"Rm","a":238.3,"v":-9.4},{"p":"b1","s":"Rm","a":242.9,"v":-11.9},{"p":"b1","s":"Rm","a":248.6,"v":-13},{"p":"b1","s":"Rm","a":254.7,"v":-10.4},{"p":"b1","s":"Rm","a":260.9,"v":-8.8},{"p":"b1","s":"Rm","a":266.8,"v":-6.9},{"p":"b1","s":"Rm","a":272.9,"v":-4.8},{"p":"b1","s":"Rm","a":278.6,"v":-3.5},{"p":"b1","s":"Rm","a":285.3,"v":-2.5},{"p":"b1","s":"Rm","a":291.5,"v":-1.2},{"p":"b1","s":"Rm","a":299.6,"v":0.2},{"p":"b1","s":"Rm","a":307.5,"v":1.7},{"p":"b1","s":"Rm","a":315.9,"v":3},{"p":"b1","s":"Rm","a":324.7,"v":4},{"p":"b1","s":"Rm","a":333.8,"v":4.6},{"p":"b1","s":"Rm","a":343.6,"v":4.9},{"p":"b1","s":"Rm","a":352.8,"v":5},{"p":"b1","s":"Rm","a":360,"v":4.9},
{"p":"b1","s":"Lm","a":0,"v":-10.8},{"p":"b1","s":"Lm","a":3.8,"v":-11.1},{"p":"b1","s":"Lm","a":12.4,"v":-12.3},{"p":"b1","s":"Lm","a":19.4,"v":-13.8},{"p":"b1","s":"Lm","a":28.4,"v":-14.4},{"p":"b1","s":"Lm","a":31,"v":-16.1},{"p":"b1","s":"Lm","a":37.6,"v":-19.5},{"p":"b1","s":"Lm","a":43.1,"v":-22.2},{"p":"b1","s":"Lm","a":52,"v":-24.5},{"p":"b1","s":"Lm","a":75,"v":-27.2},{"p":"b1","s":"Lm","a":90,"v":-27.1},{"p":"b1","s":"Lm","a":55,"v":-23},{"p":"b1","s":"Lm","a":59.7,"v":-19.2},{"p":"b1","s":"Lm","a":64.5,"v":-14.7},{"p":"b1","s":"Lm","a":65.9,"v":-12.9},{"p":"b1","s":"Lm","a":74.5,"v":-10.6},{"p":"b1","s":"Lm","a":80,"v":-10.5},{"p":"b1","s":"Lm","a":85,"v":-11.7},{"p":"b1","s":"Lm","a":91.3,"v":-10},{"p":"b1","s":"Lm","a":96.5,"v":-7.4},{"p":"b1","s":"Lm","a":101.7,"v":-6.6},{"p":"b1","s":"Lm","a":110.4,"v":-6.4},{"p":"b1","s":"Lm","a":115,"v":-6.8},{"p":"b1","s":"Lm","a":121.2,"v":-8.1},{"p":"b1","s":"Lm","a":125,"v":-10},{"p":"b1","s":"Lm","a":129.9,"v":-11.9},{"p":"b1","s":"Lm","a":134,"v":-10},{"p":"b1","s":"Lm","a":139.5,"v":-8.7},{"p":"b1","s":"Lm","a":144,"v":-7},{"p":"b1","s":"Lm","a":149.2,"v":-6.3},{"p":"b1","s":"Lm","a":153,"v":-8},{"p":"b1","s":"Lm","a":157.3,"v":-10.2},{"p":"b1","s":"Lm","a":162.5,"v":-11.8},{"p":"b1","s":"Lm","a":170.2,"v":-11.3},{"p":"b1","s":"Lm","a":176,"v":-12.6},{"p":"b1","s":"Lm","a":181,"v":-14.8},{"p":"b1","s":"Lm","a":188,"v":-17},{"p":"b1","s":"Lm","a":196,"v":-19},{"p":"b1","s":"Lm","a":201,"v":-19.1},{"p":"b1","s":"Lm","a":210,"v":-16.5},{"p":"b1","s":"Lm","a":221.9,"v":-14.1},{"p":"b1","s":"Lm","a":230,"v":-12.5},{"p":"b1","s":"Lm","a":237,"v":-11.6},{"p":"b1","s":"Lm","a":245,"v":-11},{"p":"b1","s":"Lm","a":250.4,"v":-10.9},{"p":"b1","s":"Lm","a":258,"v":-10.7},{"p":"b1","s":"Lm","a":266.1,"v":-10.9},{"p":"b1","s":"Lm","a":270,"v":-10.3},{"p":"b1","s":"Lm","a":280,"v":-10.3},{"p":"b1","s":"Lm","a":285.3,"v":-10.7},{"p":"b1","s":"Lm","a":293.9,"v":-12},{"p":"b1","s":"Lm","a":301.7,"v":-12},{"p":"b1","s":"Lm","a":308,"v":-12},{"p":"b1","s":"Lm","a":314,"v":-12.5},{"p":"b1","s":"Lm","a":321,"v":-14.3},{"p":"b1","s":"Lm","a":326,"v":-17.3},{"p":"b1","s":"Lm","a":332,"v":-20},{"p":"b1","s":"Lm","a":336.9,"v":-22.7},{"p":"b1","s":"Lm","a":344.7,"v":-23.9},{"p":"b1","s":"Lm","a":340.9,"v":-20.4},{"p":"b1","s":"Lm","a":340.6,"v":-18.2},{"p":"b1","s":"Lm","a":341.8,"v":-16.7},{"p":"b1","s":"Lm","a":345.4,"v":-12.4},{"p":"b1","s":"Lm","a":349,"v":-10.8},{"p":"b1","s":"Lm","a":356,"v":-10.5},{"p":"b1","s":"Lm","a":360,"v":-10.8},
{"p":"b2","s":"Rs","a":0,"v":5.2},{"p":"b2","s":"Rs","a":6,"v":5.5},{"p":"b2","s":"Rs","a":19,"v":5.6},{"p":"b2","s":"Rs","a":29,"v":5.5},{"p":"b2","s":"Rs","a":36.3,"v":4.9},{"p":"b2","s":"Rs","a":44.6,"v":4.1},{"p":"b2","s":"Rs","a":52.7,"v":2.8},{"p":"b2","s":"Rs","a":58.6,"v":1.9},{"p":"b2","s":"Rs","a":66.2,"v":0.3},{"p":"b2","s":"Rs","a":74.9,"v":-1.8},{"p":"b2","s":"Rs","a":82.2,"v":-4.2},{"p":"b2","s":"Rs","a":89.5,"v":-6.6},{"p":"b2","s":"Rs","a":96.9,"v":-8.9},{"p":"b2","s":"Rs","a":103,"v":-10.8},{"p":"b2","s":"Rs","a":109.5,"v":-13.2},{"p":"b2","s":"Rs","a":114,"v":-15.4},{"p":"b2","s":"Rs","a":118.3,"v":-17.3},{"p":"b2","s":"Rs","a":121.5,"v":-19},{"p":"b2","s":"Rs","a":124,"v":-19.8},{"p":"b2","s":"Rs","a":126,"v":-19.2},{"p":"b2","s":"Rs","a":131.5,"v":-17.8},{"p":"b2","s":"Rs","a":135.1,"v":-14.9},{"p":"b2","s":"Rs","a":141.5,"v":-12.4},{"p":"b2","s":"Rs","a":148.8,"v":-10.6},{"p":"b2","s":"Rs","a":156.9,"v":-10.4},{"p":"b2","s":"Rs","a":165,"v":-11.7},{"p":"b2","s":"Rs","a":170.6,"v":-13.7},{"p":"b2","s":"Rs","a":175.1,"v":-16.2},{"p":"b2","s":"Rs","a":182.5,"v":-18.1},{"p":"b2","s":"Rs","a":186.8,"v":-15.1},{"p":"b2","s":"Rs","a":192,"v":-13},{"p":"b2","s":"Rs","a":197,"v":-11.8},{"p":"b2","s":"Rs","a":206.6,"v":-8.8},{"p":"b2","s":"Rs","a":212.6,"v":-7.5},{"p":"b2","s":"Rs","a":222.6,"v":-6.4},{"p":"b2","s":"Rs","a":233.9,"v":-6.2},{"p":"b2","s":"Rs","a":244.6,"v":-6.3},{"p":"b2","s":"Rs","a":248.2,"v":-6.5},{"p":"b2","s":"Rs","a":255.3,"v":-5},{"p":"b2","s":"Rs","a":264.5,"v":-3.5},{"p":"b2","s":"Rs","a":272.7,"v":-2.2},{"p":"b2","s":"Rs","a":281.2,"v":-0.8},{"p":"b2","s":"Rs","a":289.2,"v":0.5},{"p":"b2","s":"Rs","a":296.2,"v":1.5},{"p":"b2","s":"Rs","a":304.7,"v":2},{"p":"b2","s":"Rs","a":313.8,"v":2.7},{"p":"b2","s":"Rs","a":323.8,"v":3.5},{"p":"b2","s":"Rs","a":333.2,"v":4.2},{"p":"b2","s":"Rs","a":343.2,"v":4.5},{"p":"b2","s":"Rs","a":352.6,"v":4.9},{"p":"b2","s":"Rs","a":360,"v":5.2},
{"p":"b2","s":"Ls","a":0,"v":-17.5},{"p":"b2","s":"Ls","a":3.2,"v":-22.1},{"p":"b2","s":"Ls","a":6,"v":-25.5},{"p":"b2","s":"Ls","a":9,"v":-27},{"p":"b2","s":"Ls","a":10.5,"v":-22},{"p":"b2","s":"Ls","a":12,"v":-17},{"p":"b2","s":"Ls","a":16.4,"v":-11},{"p":"b2","s":"Ls","a":21.6,"v":-8},{"p":"b2","s":"Ls","a":26.7,"v":-6.5},{"p":"b2","s":"Ls","a":35.6,"v":-4.9},{"p":"b2","s":"Ls","a":44.5,"v":-3.7},{"p":"b2","s":"Ls","a":52.8,"v":-3.4},{"p":"b2","s":"Ls","a":62.4,"v":-3.6},{"p":"b2","s":"Ls","a":69.7,"v":-4.2},{"p":"b2","s":"Ls","a":76.9,"v":-4.9},{"p":"b2","s":"Ls","a":83,"v":-5.9},{"p":"b2","s":"Ls","a":89.7,"v":-7.2},{"p":"b2","s":"Ls","a":99.6,"v":-9.2},{"p":"b2","s":"Ls","a":109.8,"v":-12.1},{"p":"b2","s":"Ls","a":118,"v":-15},{"p":"b2","s":"Ls","a":125,"v":-17.7},{"p":"b2","s":"Ls","a":130.6,"v":-18.7},{"p":"b2","s":"Ls","a":137,"v":-17.8},{"p":"b2","s":"Ls","a":144.3,"v":-16.8},{"p":"b2","s":"Ls","a":153,"v":-15.5},{"p":"b2","s":"Ls","a":162,"v":-14.7},{"p":"b2","s":"Ls","a":172,"v":-14},{"p":"b2","s":"Ls","a":183.9,"v":-12.7},{"p":"b2","s":"Ls","a":197.4,"v":-11.3},{"p":"b2","s":"Ls","a":209.7,"v":-11.5},{"p":"b2","s":"Ls","a":222,"v":-13.2},{"p":"b2","s":"Ls","a":229.3,"v":-15.2},{"p":"b2","s":"Ls","a":235.6,"v":-17.5},{"p":"b2","s":"Ls","a":240.5,"v":-19.8},{"p":"b2","s":"Ls","a":245.6,"v":-22.2},{"p":"b2","s":"Ls","a":249.5,"v":-25.6},{"p":"b2","s":"Ls","a":254,"v":-25},{"p":"b2","s":"Ls","a":260.6,"v":-23.7},{"p":"b2","s":"Ls","a":264,"v":-21.4},{"p":"b2","s":"Ls","a":267.8,"v":-20},{"p":"b2","s":"Ls","a":271.2,"v":-18.2},{"p":"b2","s":"Ls","a":276.4,"v":-16.2},{"p":"b2","s":"Ls","a":285.8,"v":-13.4},{"p":"b2","s":"Ls","a":293,"v":-10.5},{"p":"b2","s":"Ls","a":300,"v":-8.7},{"p":"b2","s":"Ls","a":311.3,"v":-7.3},{"p":"b2","s":"Ls","a":319.8,"v":-6.1},{"p":"b2","s":"Ls","a":327,"v":-5.7},{"p":"b2","s":"Ls","a":335.2,"v":-6.3},{"p":"b2","s":"Ls","a":341.4,"v":-7.4},{"p":"b2","s":"Ls","a":349,"v":-9.5},{"p":"b2","s":"Ls","a":354.5,"v":-11.7},{"p":"b2","s":"Ls","a":357.6,"v":-14.5},{"p":"b2","s":"Ls","a":360,"v":-17.5},
{"p":"b2","s":"Rm","a":0,"v":4.6},{"p":"b2","s":"Rm","a":6.1,"v":4.9},{"p":"b2","s":"Rm","a":15.5,"v":4.3},{"p":"b2","s":"Rm","a":25.2,"v":4.4},{"p":"b2","s":"Rm","a":32.8,"v":4.1},{"p":"b2","s":"Rm","a":40.6,"v":3.4},{"p":"b2","s":"Rm","a":48.7,"v":2.6},{"p":"b2","s":"Rm","a":55.9,"v":1.5},{"p":"b2","s":"Rm","a":63.9,"v":0.3},{"p":"b2","s":"Rm","a":71.9,"v":-1.1},{"p":"b2","s":"Rm","a":78,"v":-2.7},{"p":"b2","s":"Rm","a":84.6,"v":-4.3},{"p":"b2","s":"Rm","a":90.8,"v":-6.1},{"p":"b2","s":"Rm","a":92.2,"v":-6.6},{"p":"b2","s":"Rm","a":97.9,"v":-8.5},{"p":"b2","s":"Rm","a":103.7,"v":-9.9},{"p":"b2","s":"Rm","a":109.9,"v":-11.5},{"p":"b2","s":"Rm","a":117.4,"v":-10.7},{"p":"b2","s":"Rm","a":124.5,"v":-12.1},{"p":"b2","s":"Rm","a":127.5,"v":-9.9},{"p":"b2","s":"Rm","a":128.5,"v":-7.1},{"p":"b2","s":"Rm","a":132.3,"v":-8},{"p":"b2","s":"Rm","a":139.2,"v":-8.7},{"p":"b2","s":"Rm","a":144.8,"v":-10},{"p":"b2","s":"Rm","a":152.8,"v":-11.9},{"p":"b2","s":"Rm","a":160.9,"v":-12.8},{"p":"b2","s":"Rm","a":161.7,"v":-15},{"p":"b2","s":"Rm","a":160.5,"v":-17.6},{"p":"b2","s":"Rm","a":170.6,"v":-19.2},{"p":"b2","s":"Rm","a":176.7,"v":-19.6},{"p":"b2","s":"Rm","a":184.5,"v":-18.8},{"p":"b2","s":"Rm","a":192.8,"v":-16.7},{"p":"b2","s":"Rm","a":197.7,"v":-14.5},{"p":"b2","s":"Rm","a":199,"v":-11.9},{"p":"b2","s":"Rm","a":200.3,"v":-9.6},{"p":"b2","s":"Rm","a":206.3,"v":-8},{"p":"b2","s":"Rm","a":211.2,"v":-6.1},{"p":"b2","s":"Rm","a":216.3,"v":-5.6},{"p":"b2","s":"Rm","a":222.5,"v":-5.1},{"p":"b2","s":"Rm","a":227,"v":-4.5},{"p":"b2","s":"Rm","a":227.2,"v":-7.5},{"p":"b2","s":"Rm","a":227.6,"v":-9.6},{"p":"b2","s":"Rm","a":235,"v":-8.7},{"p":"b2","s":"Rm","a":241.6,"v":-9.7},{"p":"b2","s":"Rm","a":248.4,"v":-8.7},{"p":"b2","s":"Rm","a":254.3,"v":-7.6},{"p":"b2","s":"Rm","a":261.3,"v":-6.1},{"p":"b2","s":"Rm","a":269.3,"v":-4.2},{"p":"b2","s":"Rm","a":277.4,"v":-2.9},{"p":"b2","s":"Rm","a":284.7,"v":-1.1},{"p":"b2","s":"Rm","a":291.5,"v":0.4},{"p":"b2","s":"Rm","a":299,"v":2},{"p":"b2","s":"Rm","a":307,"v":3},{"p":"b2","s":"Rm","a":317.1,"v":3.9},{"p":"b2","s":"Rm","a":325.4,"v":4.8},{"p":"b2","s":"Rm","a":334,"v":5.2},{"p":"b2","s":"Rm","a":343.5,"v":5},{"p":"b2","s":"Rm","a":352.6,"v":4.9},{"p":"b2","s":"Rm","a":360,"v":4.6},
{"p":"b2","s":"Lm","a":0,"v":-12.5},{"p":"b2","s":"Lm","a":9.9,"v":-13.1},{"p":"b2","s":"Lm","a":16.3,"v":-15.8},{"p":"b2","s":"Lm","a":20.3,"v":-11.4},{"p":"b2","s":"Lm","a":24.5,"v":-10.5},{"p":"b2","s":"Lm","a":34.8,"v":-9.1},{"p":"b2","s":"Lm","a":43.4,"v":-7.9},{"p":"b2","s":"Lm","a":51.2,"v":-7},{"p":"b2","s":"Lm","a":59.3,"v":-6},{"p":"b2","s":"Lm","a":64.6,"v":-5.3},{"p":"b2","s":"Lm","a":71.4,"v":-5.3},{"p":"b2","s":"Lm","a":76.6,"v":-5.4},{"p":"b2","s":"Lm","a":84.3,"v":-5.7},{"p":"b2","s":"Lm","a":89.5,"v":-5.5},{"p":"b2","s":"Lm","a":96,"v":-6.2},{"p":"b2","s":"Lm","a":103,"v":-6.8},{"p":"b2","s":"Lm","a":110,"v":-7},{"p":"b2","s":"Lm","a":118,"v":-8.2},{"p":"b2","s":"Lm","a":121.2,"v":-8.9},{"p":"b2","s":"Lm","a":125.9,"v":-9.6},{"p":"b2","s":"Lm","a":125.2,"v":-11.9},{"p":"b2","s":"Lm","a":123.8,"v":-15.4},{"p":"b2","s":"Lm","a":121,"v":-17.2},{"p":"b2","s":"Lm","a":113.5,"v":-20},{"p":"b2","s":"Lm","a":121,"v":-18.3},{"p":"b2","s":"Lm","a":125.3,"v":-17.3},{"p":"b2","s":"Lm","a":130,"v":-14.6},{"p":"b2","s":"Lm","a":140.1,"v":-13},{"p":"b2","s":"Lm","a":148,"v":-13.5},{"p":"b2","s":"Lm","a":153.7,"v":-14.6},{"p":"b2","s":"Lm","a":159.6,"v":-15.6},{"p":"b2","s":"Lm","a":166.9,"v":-18.2},{"p":"b2","s":"Lm","a":172.8,"v":-18.2},{"p":"b2","s":"Lm","a":174.3,"v":-13.6},{"p":"b2","s":"Lm","a":178,"v":-12.5},{"p":"b2","s":"Lm","a":187.4,"v":-11.7},{"p":"b2","s":"Lm","a":191.7,"v":-12.5},{"p":"b2","s":"Lm","a":201.4,"v":-13.8},{"p":"b2","s":"Lm","a":207,"v":-13.7},{"p":"b2","s":"Lm","a":218.7,"v":-15.3},{"p":"b2","s":"Lm","a":222.8,"v":-16.5},{"p":"b2","s":"Lm","a":230,"v":-16.5},{"p":"b2","s":"Lm","a":237.7,"v":-16},{"p":"b2","s":"Lm","a":242.8,"v":-15.1},{"p":"b2","s":"Lm","a":250.4,"v":-14.3},{"p":"b2","s":"Lm","a":255.9,"v":-13.5},{"p":"b2","s":"Lm","a":269.6,"v":-11.5},{"p":"b2","s":"Lm","a":282.8,"v":-9.7},{"p":"b2","s":"Lm","a":288.7,"v":-8.8},{"p":"b2","s":"Lm","a":299.6,"v":-8.5},{"p":"b2","s":"Lm","a":312,"v":-9.2},{"p":"b2","s":"Lm","a":326.2,"v":-10.7},{"p":"b2","s":"Lm","a":339,"v":-11.4},{"p":"b2","s":"Lm","a":345.7,"v":-16.2},{"p":"b2","s":"Lm","a":348.6,"v":-18.4},{"p":"b2","s":"Lm","a":353.2,"v":-11.6},{"p":"b2","s":"Lm","a":360,"v":-12.5}
]},
"concat":[
{"width":1036,"height":1036,
"resolve":{"axis":{"y":"independent"}},
"layer":[
{"data":{"name":"rings"},"mark":{"type":"point","shape":"circle","filled":false,"color":"#7f7f7f","strokeWidth":1.4,"opacity":1},
"encoding":{"x":{"datum":0,"type":"quantitative","scale":{"domain":[-40,40],"nice":false},"axis":null},
"y":{"datum":0,"type":"quantitative","scale":{"domain":[-40,40],"nice":false},"axis":{"orient":"left","offset":122,"values":[-35,-25,-15,-5,5,15,25,35],"tickSize":13,"tickWidth":4,"tickColor":"black","domain":false,"labels":false,"grid":false,"title":null}},
"size":{"field":"r","type":"quantitative","scale":{"type":"pow","exponent":2,"domain":[0,40],"range":[0,1073296]},"legend":null}}},
{"data":{"name":"spokes"},"transform":[{"filter":"datum.a % 90 != 0"},{"calculate":"40*sin(datum.a*PI/180)","as":"x"},{"calculate":"40*cos(datum.a*PI/180)","as":"y"},{"calculate":"-datum.x","as":"x2"},{"calculate":"-datum.y","as":"y2"}],
"mark":{"type":"rule","color":"#7f7f7f","strokeWidth":1.2},
"encoding":{"x":{"field":"x","type":"quantitative","scale":{"domain":[-40,40],"nice":false},"axis":null},"y":{"field":"y","type":"quantitative","scale":{"domain":[-40,40],"nice":false},"axis":null},"x2":{"field":"x2"},"y2":{"field":"y2"}}},
{"data":{"name":"spokes"},"transform":[{"filter":"datum.a % 90 == 0"},{"calculate":"40*sin(datum.a*PI/180)","as":"x"},{"calculate":"40*cos(datum.a*PI/180)","as":"y"},{"calculate":"-datum.x","as":"x2"},{"calculate":"-datum.y","as":"y2"}],
"mark":{"type":"rule","color":"#7f7f7f","strokeWidth":1.2,"strokeDash":[16,6,3,6]},
"encoding":{"x":{"field":"x","type":"quantitative","scale":{"domain":[-40,40],"nice":false},"axis":null},"y":{"field":"y","type":"quantitative","scale":{"domain":[-40,40],"nice":false},"axis":null},"x2":{"field":"x2"},"y2":{"field":"y2"}}},
{"data":{"name":"outer"},"mark":{"type":"point","shape":"circle","filled":false,"color":"black","strokeWidth":5.5,"opacity":1},
"encoding":{"x":{"datum":0,"type":"quantitative","scale":{"domain":[-40,40],"nice":false},"axis":null},
"y":{"datum":0,"type":"quantitative","scale":{"domain":[-40,40],"nice":false},"axis":{"orient":"left","offset":122,"values":[-40,-30,-20,-10,0,10,20,30,40],"labelExpr":"replace(format(abs(datum.value)-30,'d'),'-','−')","tickSize":23,"tickWidth":4,"tickColor":"black","domain":true,"domainWidth":4.5,"domainColor":"black","labelFont":"Liberation Serif","labelFontSize":49,"labelColor":"black","labelPadding":22,"labelFlush":false,"labelOverlap":false,"labelBound":false,"labelBaseline":"middle","grid":false,"title":null}},
"size":{"field":"r","type":"quantitative","scale":{"type":"pow","exponent":2,"domain":[0,40],"range":[0,1073296]},"legend":null}}},
{"data":{"name":"curves"},"transform":[{"filter":"datum.p == 'a1' && (datum.s == 'Rs' || datum.s == 'Ls')"},{"window":[{"op":"row_number","as":"i"}]},{"calculate":"max(0, datum.v + 30)","as":"rr"},{"calculate":"datum.rr*sin(datum.a*PI/180)","as":"x"},{"calculate":"datum.rr*cos(datum.a*PI/180)","as":"y"}],
"mark":{"type":"line","strokeWidth":10,"strokeCap":"butt","strokeJoin":"round","interpolate":"catmull-rom"},
"encoding":{"x":{"field":"x","type":"quantitative","scale":{"domain":[-40,40],"nice":false},"axis":null},"y":{"field":"y","type":"quantitative","scale":{"domain":[-40,40],"nice":false},"axis":null},"order":{"field":"i","type":"quantitative"},
"color":{"field":"s","type":"nominal","scale":{"domain":["Rm","Rs","Lm","Ls"],"range":["#000000","#0000ff","#ff0000","#006400"]},"legend":null},
"strokeDash":{"field":"s","type":"nominal","scale":{"domain":["Rm","Rs","Lm","Ls"],"range":[[24,10],[1,0],[46,20],[44,21,11,21]]},"legend":null}}},
{"data":{"name":"curves"},"transform":[{"filter":"datum.p == 'a1' && (datum.s == 'Rm' || datum.s == 'Lm')"},{"window":[{"op":"row_number","as":"i"}]},{"calculate":"max(0, datum.v + 30)","as":"rr"},{"calculate":"datum.rr*sin(datum.a*PI/180)","as":"x"},{"calculate":"datum.rr*cos(datum.a*PI/180)","as":"y"}],
"mark":{"type":"line","strokeWidth":10,"strokeCap":"butt","strokeJoin":"round"},
"encoding":{"x":{"field":"x","type":"quantitative","scale":{"domain":[-40,40],"nice":false},"axis":null},"y":{"field":"y","type":"quantitative","scale":{"domain":[-40,40],"nice":false},"axis":null},"order":{"field":"i","type":"quantitative"},
"color":{"field":"s","type":"nominal","scale":{"domain":["Rm","Rs","Lm","Ls"],"range":["#000000","#0000ff","#ff0000","#006400"]},"legend":null},
"strokeDash":{"field":"s","type":"nominal","scale":{"domain":["Rm","Rs","Lm","Ls"],"range":[[24,10],[1,0],[46,20],[44,21,11,21]]},"legend":null}}},
{"data":{"name":"ticks"},"transform":[{"calculate":"44.2*sin(datum.a*PI/180)","as":"lx"},{"calculate":"44.2*cos(datum.a*PI/180)","as":"ly"}],
"mark":{"type":"text","font":"Liberation Serif","fontSize":48,"color":"black","align":"center","baseline":"middle"},
"encoding":{"x":{"field":"lx","type":"quantitative","scale":{"domain":[-40,40],"nice":false},"axis":null},"y":{"field":"ly","type":"quantitative","scale":{"domain":[-40,40],"nice":false},"axis":null},"text":{"field":"a","type":"quantitative","format":"d"}}},
{"data":{"values":[{}]},"mark":{"type":"text","font":"Liberation Serif","fontSize":71,"fontStyle":"italic","color":"black","align":"center","baseline":"alphabetic"},
"encoding":{"x":{"datum":0,"type":"quantitative","scale":{"domain":[-40,40],"nice":false},"axis":null},"y":{"datum":-46.5,"type":"quantitative","scale":{"domain":[-40,40],"nice":false},"axis":null},"text":{"value":"x-z plane"}}},
{"data":{"values":[{}]},"mark":{"type":"text","font":"Liberation Serif","fontSize":70,"color":"black","align":"left","baseline":"alphabetic"},
"encoding":{"x":{"datum":-56.2,"type":"quantitative","scale":{"domain":[-40,40],"nice":false},"axis":null},"y":{"datum":45.1,"type":"quantitative","scale":{"domain":[-40,40],"nice":false},"axis":null},"text":{"value":"(dB"}}},
{"data":{"values":[{}]},"mark":{"type":"text","font":"Liberation Serif","fontSize":42,"color":"black","align":"left","baseline":"alphabetic","dx":108,"dy":12},
"encoding":{"x":{"datum":-56.2,"type":"quantitative","scale":{"domain":[-40,40],"nice":false},"axis":null},"y":{"datum":45.1,"type":"quantitative","scale":{"domain":[-40,40],"nice":false},"axis":null},"text":{"value":"ic"}}},
{"data":{"values":[{}]},"mark":{"type":"text","font":"Liberation Serif","fontSize":70,"color":"black","align":"left","baseline":"alphabetic","dx":140},
"encoding":{"x":{"datum":-56.2,"type":"quantitative","scale":{"domain":[-40,40],"nice":false},"axis":null},"y":{"datum":45.1,"type":"quantitative","scale":{"domain":[-40,40],"nice":false},"axis":null},"text":{"value":")"}}},
{"data":{"values":[{}]},"mark":{"type":"text","font":"Liberation Serif","fontSize":74,"fontWeight":"bold","color":"black","align":"center","baseline":"alphabetic"},
"encoding":{"x":{"datum":41.2,"type":"quantitative","scale":{"domain":[-40,40],"nice":false},"axis":null},"y":{"datum":-59,"type":"quantitative","scale":{"domain":[-40,40],"nice":false},"axis":null},"text":{"value":"(a)"}}}
]},
{"width":1036,"height":1036,
"layer":[
{"data":{"name":"rings"},"mark":{"type":"point","shape":"circle","filled":false,"color":"#7f7f7f","strokeWidth":1.4,"opacity":1},
"encoding":{"x":{"datum":0,"type":"quantitative","scale":{"domain":[-40,40],"nice":false},"axis":null},"y":{"datum":0,"type":"quantitative","scale":{"domain":[-40,40],"nice":false},"axis":null},
"size":{"field":"r","type":"quantitative","scale":{"type":"pow","exponent":2,"domain":[0,40],"range":[0,1073296]},"legend":null}}},
{"data":{"name":"spokes"},"transform":[{"filter":"datum.a % 90 != 0"},{"calculate":"40*sin(datum.a*PI/180)","as":"x"},{"calculate":"40*cos(datum.a*PI/180)","as":"y"},{"calculate":"-datum.x","as":"x2"},{"calculate":"-datum.y","as":"y2"}],
"mark":{"type":"rule","color":"#7f7f7f","strokeWidth":1.2},
"encoding":{"x":{"field":"x","type":"quantitative","scale":{"domain":[-40,40],"nice":false},"axis":null},"y":{"field":"y","type":"quantitative","scale":{"domain":[-40,40],"nice":false},"axis":null},"x2":{"field":"x2"},"y2":{"field":"y2"}}},
{"data":{"name":"spokes"},"transform":[{"filter":"datum.a % 90 == 0"},{"calculate":"40*sin(datum.a*PI/180)","as":"x"},{"calculate":"40*cos(datum.a*PI/180)","as":"y"},{"calculate":"-datum.x","as":"x2"},{"calculate":"-datum.y","as":"y2"}],
"mark":{"type":"rule","color":"#7f7f7f","strokeWidth":1.2,"strokeDash":[16,6,3,6]},
"encoding":{"x":{"field":"x","type":"quantitative","scale":{"domain":[-40,40],"nice":false},"axis":null},"y":{"field":"y","type":"quantitative","scale":{"domain":[-40,40],"nice":false},"axis":null},"x2":{"field":"x2"},"y2":{"field":"y2"}}},
{"data":{"name":"outer"},"mark":{"type":"point","shape":"circle","filled":false,"color":"black","strokeWidth":5.5,"opacity":1},
"encoding":{"x":{"datum":0,"type":"quantitative","scale":{"domain":[-40,40],"nice":false},"axis":null},"y":{"datum":0,"type":"quantitative","scale":{"domain":[-40,40],"nice":false},"axis":null},
"size":{"field":"r","type":"quantitative","scale":{"type":"pow","exponent":2,"domain":[0,40],"range":[0,1073296]},"legend":null}}},
{"data":{"name":"curves"},"transform":[{"filter":"datum.p == 'a2' && (datum.s == 'Rs' || datum.s == 'Ls')"},{"window":[{"op":"row_number","as":"i"}]},{"calculate":"max(0, datum.v + 30)","as":"rr"},{"calculate":"datum.rr*sin(datum.a*PI/180)","as":"x"},{"calculate":"datum.rr*cos(datum.a*PI/180)","as":"y"}],
"mark":{"type":"line","strokeWidth":10,"strokeCap":"butt","strokeJoin":"round","interpolate":"catmull-rom"},
"encoding":{"x":{"field":"x","type":"quantitative","scale":{"domain":[-40,40],"nice":false},"axis":null},"y":{"field":"y","type":"quantitative","scale":{"domain":[-40,40],"nice":false},"axis":null},"order":{"field":"i","type":"quantitative"},
"color":{"field":"s","type":"nominal","scale":{"domain":["Rm","Rs","Lm","Ls"],"range":["#000000","#0000ff","#ff0000","#006400"]},"legend":{"orient":"none","legendX":913,"legendY":-155,"title":null,"symbolType":"M-3.28,0L3.28,0","symbolSize":2809,"symbolStrokeWidth":11,"labelFont":"Liberation Serif","labelFontSize":60,"labelColor":"black","labelOffset":85,"labelLimit":1000,"rowPadding":0,"padding":0,"labelExpr":"datum.label=='Rm'?'RHCP (mea.)':datum.label=='Rs'?'RHCP (sim.)':datum.label=='Lm'?'LHCP (mea.)':'LHCP (sim.)'"}},
"strokeDash":{"field":"s","type":"nominal","scale":{"domain":["Rm","Rs","Lm","Ls"],"range":[[24,10],[1,0],[46,20],[44,21,11,21]]},"legend":{"orient":"none","legendX":913,"legendY":-155,"title":null,"symbolType":"M-3.28,0L3.28,0","symbolSize":2809,"symbolStrokeWidth":11,"labelFont":"Liberation Serif","labelFontSize":60,"labelColor":"black","labelOffset":85,"labelLimit":1000,"rowPadding":0,"padding":0,"labelExpr":"datum.label=='Rm'?'RHCP (mea.)':datum.label=='Rs'?'RHCP (sim.)':datum.label=='Lm'?'LHCP (mea.)':'LHCP (sim.)'"}}}},
{"data":{"name":"curves"},"transform":[{"filter":"datum.p == 'a2' && (datum.s == 'Rm' || datum.s == 'Lm')"},{"window":[{"op":"row_number","as":"i"}]},{"calculate":"max(0, datum.v + 30)","as":"rr"},{"calculate":"datum.rr*sin(datum.a*PI/180)","as":"x"},{"calculate":"datum.rr*cos(datum.a*PI/180)","as":"y"}],
"mark":{"type":"line","strokeWidth":10,"strokeCap":"butt","strokeJoin":"round"},
"encoding":{"x":{"field":"x","type":"quantitative","scale":{"domain":[-40,40],"nice":false},"axis":null},"y":{"field":"y","type":"quantitative","scale":{"domain":[-40,40],"nice":false},"axis":null},"order":{"field":"i","type":"quantitative"},
"color":{"field":"s","type":"nominal","scale":{"domain":["Rm","Rs","Lm","Ls"],"range":["#000000","#0000ff","#ff0000","#006400"]},"legend":{"orient":"none","legendX":913,"legendY":-155,"title":null,"symbolType":"M-3.28,0L3.28,0","symbolSize":2809,"symbolStrokeWidth":11,"labelFont":"Liberation Serif","labelFontSize":60,"labelColor":"black","labelOffset":85,"labelLimit":1000,"rowPadding":0,"padding":0,"labelExpr":"datum.label=='Rm'?'RHCP (mea.)':datum.label=='Rs'?'RHCP (sim.)':datum.label=='Lm'?'LHCP (mea.)':'LHCP (sim.)'"}},
"strokeDash":{"field":"s","type":"nominal","scale":{"domain":["Rm","Rs","Lm","Ls"],"range":[[24,10],[1,0],[46,20],[44,21,11,21]]},"legend":{"orient":"none","legendX":913,"legendY":-155,"title":null,"symbolType":"M-3.28,0L3.28,0","symbolSize":2809,"symbolStrokeWidth":11,"labelFont":"Liberation Serif","labelFontSize":60,"labelColor":"black","labelOffset":85,"labelLimit":1000,"rowPadding":0,"padding":0,"labelExpr":"datum.label=='Rm'?'RHCP (mea.)':datum.label=='Rs'?'RHCP (sim.)':datum.label=='Lm'?'LHCP (mea.)':'LHCP (sim.)'"}}}},
{"data":{"name":"ticks"},"transform":[{"calculate":"44.2*sin(datum.a*PI/180)","as":"lx"},{"calculate":"44.2*cos(datum.a*PI/180)","as":"ly"}],
"mark":{"type":"text","font":"Liberation Serif","fontSize":48,"color":"black","align":"center","baseline":"middle"},
"encoding":{"x":{"field":"lx","type":"quantitative","scale":{"domain":[-40,40],"nice":false},"axis":null},"y":{"field":"ly","type":"quantitative","scale":{"domain":[-40,40],"nice":false},"axis":null},"text":{"field":"a","type":"quantitative","format":"d"}}},
{"data":{"values":[{}]},"mark":{"type":"text","font":"Liberation Serif","fontSize":71,"fontStyle":"italic","color":"black","align":"center","baseline":"alphabetic"},
"encoding":{"x":{"datum":0,"type":"quantitative","scale":{"domain":[-40,40],"nice":false},"axis":null},"y":{"datum":-46.5,"type":"quantitative","scale":{"domain":[-40,40],"nice":false},"axis":null},"text":{"value":"y-z plane"}}}
]},
{"width":1036,"height":1036,
"resolve":{"axis":{"y":"independent"}},
"layer":[
{"data":{"name":"rings"},"mark":{"type":"point","shape":"circle","filled":false,"color":"#7f7f7f","strokeWidth":1.4,"opacity":1},
"encoding":{"x":{"datum":0,"type":"quantitative","scale":{"domain":[-40,40],"nice":false},"axis":null},
"y":{"datum":0,"type":"quantitative","scale":{"domain":[-40,40],"nice":false},"axis":{"orient":"left","offset":122,"values":[-35,-25,-15,-5,5,15,25,35],"tickSize":13,"tickWidth":4,"tickColor":"black","domain":false,"labels":false,"grid":false,"title":null}},
"size":{"field":"r","type":"quantitative","scale":{"type":"pow","exponent":2,"domain":[0,40],"range":[0,1073296]},"legend":null}}},
{"data":{"name":"spokes"},"transform":[{"filter":"datum.a % 90 != 0"},{"calculate":"40*sin(datum.a*PI/180)","as":"x"},{"calculate":"40*cos(datum.a*PI/180)","as":"y"},{"calculate":"-datum.x","as":"x2"},{"calculate":"-datum.y","as":"y2"}],
"mark":{"type":"rule","color":"#7f7f7f","strokeWidth":1.2},
"encoding":{"x":{"field":"x","type":"quantitative","scale":{"domain":[-40,40],"nice":false},"axis":null},"y":{"field":"y","type":"quantitative","scale":{"domain":[-40,40],"nice":false},"axis":null},"x2":{"field":"x2"},"y2":{"field":"y2"}}},
{"data":{"name":"spokes"},"transform":[{"filter":"datum.a % 90 == 0"},{"calculate":"40*sin(datum.a*PI/180)","as":"x"},{"calculate":"40*cos(datum.a*PI/180)","as":"y"},{"calculate":"-datum.x","as":"x2"},{"calculate":"-datum.y","as":"y2"}],
"mark":{"type":"rule","color":"#7f7f7f","strokeWidth":1.2,"strokeDash":[16,6,3,6]},
"encoding":{"x":{"field":"x","type":"quantitative","scale":{"domain":[-40,40],"nice":false},"axis":null},"y":{"field":"y","type":"quantitative","scale":{"domain":[-40,40],"nice":false},"axis":null},"x2":{"field":"x2"},"y2":{"field":"y2"}}},
{"data":{"name":"outer"},"mark":{"type":"point","shape":"circle","filled":false,"color":"black","strokeWidth":5.5,"opacity":1},
"encoding":{"x":{"datum":0,"type":"quantitative","scale":{"domain":[-40,40],"nice":false},"axis":null},
"y":{"datum":0,"type":"quantitative","scale":{"domain":[-40,40],"nice":false},"axis":{"orient":"left","offset":122,"values":[-40,-30,-20,-10,0,10,20,30,40],"labelExpr":"replace(format(abs(datum.value)-30,'d'),'-','−')","tickSize":23,"tickWidth":4,"tickColor":"black","domain":true,"domainWidth":4.5,"domainColor":"black","labelFont":"Liberation Serif","labelFontSize":49,"labelColor":"black","labelPadding":22,"labelFlush":false,"labelOverlap":false,"labelBound":false,"labelBaseline":"middle","grid":false,"title":null}},
"size":{"field":"r","type":"quantitative","scale":{"type":"pow","exponent":2,"domain":[0,40],"range":[0,1073296]},"legend":null}}},
{"data":{"name":"curves"},"transform":[{"filter":"datum.p == 'b1' && (datum.s == 'Rs' || datum.s == 'Ls')"},{"window":[{"op":"row_number","as":"i"}]},{"calculate":"max(0, datum.v + 30)","as":"rr"},{"calculate":"datum.rr*sin(datum.a*PI/180)","as":"x"},{"calculate":"datum.rr*cos(datum.a*PI/180)","as":"y"}],
"mark":{"type":"line","strokeWidth":10,"strokeCap":"butt","strokeJoin":"round","interpolate":"catmull-rom"},
"encoding":{"x":{"field":"x","type":"quantitative","scale":{"domain":[-40,40],"nice":false},"axis":null},"y":{"field":"y","type":"quantitative","scale":{"domain":[-40,40],"nice":false},"axis":null},"order":{"field":"i","type":"quantitative"},
"color":{"field":"s","type":"nominal","scale":{"domain":["Rm","Rs","Lm","Ls"],"range":["#000000","#0000ff","#ff0000","#006400"]},"legend":null},
"strokeDash":{"field":"s","type":"nominal","scale":{"domain":["Rm","Rs","Lm","Ls"],"range":[[24,10],[1,0],[46,20],[44,21,11,21]]},"legend":null}}},
{"data":{"name":"curves"},"transform":[{"filter":"datum.p == 'b1' && (datum.s == 'Rm' || datum.s == 'Lm')"},{"window":[{"op":"row_number","as":"i"}]},{"calculate":"max(0, datum.v + 30)","as":"rr"},{"calculate":"datum.rr*sin(datum.a*PI/180)","as":"x"},{"calculate":"datum.rr*cos(datum.a*PI/180)","as":"y"}],
"mark":{"type":"line","strokeWidth":10,"strokeCap":"butt","strokeJoin":"round"},
"encoding":{"x":{"field":"x","type":"quantitative","scale":{"domain":[-40,40],"nice":false},"axis":null},"y":{"field":"y","type":"quantitative","scale":{"domain":[-40,40],"nice":false},"axis":null},"order":{"field":"i","type":"quantitative"},
"color":{"field":"s","type":"nominal","scale":{"domain":["Rm","Rs","Lm","Ls"],"range":["#000000","#0000ff","#ff0000","#006400"]},"legend":null},
"strokeDash":{"field":"s","type":"nominal","scale":{"domain":["Rm","Rs","Lm","Ls"],"range":[[24,10],[1,0],[46,20],[44,21,11,21]]},"legend":null}}},
{"data":{"name":"ticks"},"transform":[{"calculate":"44.2*sin(datum.a*PI/180)","as":"lx"},{"calculate":"44.2*cos(datum.a*PI/180)","as":"ly"}],
"mark":{"type":"text","font":"Liberation Serif","fontSize":48,"color":"black","align":"center","baseline":"middle"},
"encoding":{"x":{"field":"lx","type":"quantitative","scale":{"domain":[-40,40],"nice":false},"axis":null},"y":{"field":"ly","type":"quantitative","scale":{"domain":[-40,40],"nice":false},"axis":null},"text":{"field":"a","type":"quantitative","format":"d"}}},
{"data":{"values":[{}]},"mark":{"type":"text","font":"Liberation Serif","fontSize":71,"fontStyle":"italic","color":"black","align":"center","baseline":"alphabetic"},
"encoding":{"x":{"datum":0,"type":"quantitative","scale":{"domain":[-40,40],"nice":false},"axis":null},"y":{"datum":-46.5,"type":"quantitative","scale":{"domain":[-40,40],"nice":false},"axis":null},"text":{"value":"x-z plane"}}},
{"data":{"values":[{}]},"mark":{"type":"text","font":"Liberation Serif","fontSize":70,"color":"black","align":"left","baseline":"alphabetic"},
"encoding":{"x":{"datum":-56.2,"type":"quantitative","scale":{"domain":[-40,40],"nice":false},"axis":null},"y":{"datum":45.1,"type":"quantitative","scale":{"domain":[-40,40],"nice":false},"axis":null},"text":{"value":"(dB"}}},
{"data":{"values":[{}]},"mark":{"type":"text","font":"Liberation Serif","fontSize":42,"color":"black","align":"left","baseline":"alphabetic","dx":108,"dy":12},
"encoding":{"x":{"datum":-56.2,"type":"quantitative","scale":{"domain":[-40,40],"nice":false},"axis":null},"y":{"datum":45.1,"type":"quantitative","scale":{"domain":[-40,40],"nice":false},"axis":null},"text":{"value":"ic"}}},
{"data":{"values":[{}]},"mark":{"type":"text","font":"Liberation Serif","fontSize":70,"color":"black","align":"left","baseline":"alphabetic","dx":140},
"encoding":{"x":{"datum":-56.2,"type":"quantitative","scale":{"domain":[-40,40],"nice":false},"axis":null},"y":{"datum":45.1,"type":"quantitative","scale":{"domain":[-40,40],"nice":false},"axis":null},"text":{"value":")"}}},
{"data":{"values":[{}]},"mark":{"type":"text","font":"Liberation Serif","fontSize":74,"fontWeight":"bold","color":"black","align":"center","baseline":"alphabetic"},
"encoding":{"x":{"datum":41.2,"type":"quantitative","scale":{"domain":[-40,40],"nice":false},"axis":null},"y":{"datum":-59,"type":"quantitative","scale":{"domain":[-40,40],"nice":false},"axis":null},"text":{"value":"(b)"}}}
]},
{"width":1036,"height":1036,
"layer":[
{"data":{"name":"rings"},"mark":{"type":"point","shape":"circle","filled":false,"color":"#7f7f7f","strokeWidth":1.4,"opacity":1},
"encoding":{"x":{"datum":0,"type":"quantitative","scale":{"domain":[-40,40],"nice":false},"axis":null},"y":{"datum":0,"type":"quantitative","scale":{"domain":[-40,40],"nice":false},"axis":null},
"size":{"field":"r","type":"quantitative","scale":{"type":"pow","exponent":2,"domain":[0,40],"range":[0,1073296]},"legend":null}}},
{"data":{"name":"spokes"},"transform":[{"filter":"datum.a % 90 != 0"},{"calculate":"40*sin(datum.a*PI/180)","as":"x"},{"calculate":"40*cos(datum.a*PI/180)","as":"y"},{"calculate":"-datum.x","as":"x2"},{"calculate":"-datum.y","as":"y2"}],
"mark":{"type":"rule","color":"#7f7f7f","strokeWidth":1.2},
"encoding":{"x":{"field":"x","type":"quantitative","scale":{"domain":[-40,40],"nice":false},"axis":null},"y":{"field":"y","type":"quantitative","scale":{"domain":[-40,40],"nice":false},"axis":null},"x2":{"field":"x2"},"y2":{"field":"y2"}}},
{"data":{"name":"spokes"},"transform":[{"filter":"datum.a % 90 == 0"},{"calculate":"40*sin(datum.a*PI/180)","as":"x"},{"calculate":"40*cos(datum.a*PI/180)","as":"y"},{"calculate":"-datum.x","as":"x2"},{"calculate":"-datum.y","as":"y2"}],
"mark":{"type":"rule","color":"#7f7f7f","strokeWidth":1.2,"strokeDash":[16,6,3,6]},
"encoding":{"x":{"field":"x","type":"quantitative","scale":{"domain":[-40,40],"nice":false},"axis":null},"y":{"field":"y","type":"quantitative","scale":{"domain":[-40,40],"nice":false},"axis":null},"x2":{"field":"x2"},"y2":{"field":"y2"}}},
{"data":{"name":"outer"},"mark":{"type":"point","shape":"circle","filled":false,"color":"black","strokeWidth":5.5,"opacity":1},
"encoding":{"x":{"datum":0,"type":"quantitative","scale":{"domain":[-40,40],"nice":false},"axis":null},"y":{"datum":0,"type":"quantitative","scale":{"domain":[-40,40],"nice":false},"axis":null},
"size":{"field":"r","type":"quantitative","scale":{"type":"pow","exponent":2,"domain":[0,40],"range":[0,1073296]},"legend":null}}},
{"data":{"name":"curves"},"transform":[{"filter":"datum.p == 'b2' && (datum.s == 'Rs' || datum.s == 'Ls')"},{"window":[{"op":"row_number","as":"i"}]},{"calculate":"max(0, datum.v + 30)","as":"rr"},{"calculate":"datum.rr*sin(datum.a*PI/180)","as":"x"},{"calculate":"datum.rr*cos(datum.a*PI/180)","as":"y"}],
"mark":{"type":"line","strokeWidth":10,"strokeCap":"butt","strokeJoin":"round","interpolate":"catmull-rom"},
"encoding":{"x":{"field":"x","type":"quantitative","scale":{"domain":[-40,40],"nice":false},"axis":null},"y":{"field":"y","type":"quantitative","scale":{"domain":[-40,40],"nice":false},"axis":null},"order":{"field":"i","type":"quantitative"},
"color":{"field":"s","type":"nominal","scale":{"domain":["Rm","Rs","Lm","Ls"],"range":["#000000","#0000ff","#ff0000","#006400"]},"legend":{"orient":"none","legendX":913,"legendY":-155,"title":null,"symbolType":"M-3.28,0L3.28,0","symbolSize":2809,"symbolStrokeWidth":11,"labelFont":"Liberation Serif","labelFontSize":60,"labelColor":"black","labelOffset":85,"labelLimit":1000,"rowPadding":0,"padding":0,"labelExpr":"datum.label=='Rm'?'RHCP (mea.)':datum.label=='Rs'?'RHCP (sim.)':datum.label=='Lm'?'LHCP (mea.)':'LHCP (sim.)'"}},
"strokeDash":{"field":"s","type":"nominal","scale":{"domain":["Rm","Rs","Lm","Ls"],"range":[[24,10],[1,0],[46,20],[44,21,11,21]]},"legend":{"orient":"none","legendX":913,"legendY":-155,"title":null,"symbolType":"M-3.28,0L3.28,0","symbolSize":2809,"symbolStrokeWidth":11,"labelFont":"Liberation Serif","labelFontSize":60,"labelColor":"black","labelOffset":85,"labelLimit":1000,"rowPadding":0,"padding":0,"labelExpr":"datum.label=='Rm'?'RHCP (mea.)':datum.label=='Rs'?'RHCP (sim.)':datum.label=='Lm'?'LHCP (mea.)':'LHCP (sim.)'"}}}},
{"data":{"name":"curves"},"transform":[{"filter":"datum.p == 'b2' && (datum.s == 'Rm' || datum.s == 'Lm')"},{"window":[{"op":"row_number","as":"i"}]},{"calculate":"max(0, datum.v + 30)","as":"rr"},{"calculate":"datum.rr*sin(datum.a*PI/180)","as":"x"},{"calculate":"datum.rr*cos(datum.a*PI/180)","as":"y"}],
"mark":{"type":"line","strokeWidth":10,"strokeCap":"butt","strokeJoin":"round"},
"encoding":{"x":{"field":"x","type":"quantitative","scale":{"domain":[-40,40],"nice":false},"axis":null},"y":{"field":"y","type":"quantitative","scale":{"domain":[-40,40],"nice":false},"axis":null},"order":{"field":"i","type":"quantitative"},
"color":{"field":"s","type":"nominal","scale":{"domain":["Rm","Rs","Lm","Ls"],"range":["#000000","#0000ff","#ff0000","#006400"]},"legend":{"orient":"none","legendX":913,"legendY":-155,"title":null,"symbolType":"M-3.28,0L3.28,0","symbolSize":2809,"symbolStrokeWidth":11,"labelFont":"Liberation Serif","labelFontSize":60,"labelColor":"black","labelOffset":85,"labelLimit":1000,"rowPadding":0,"padding":0,"labelExpr":"datum.label=='Rm'?'RHCP (mea.)':datum.label=='Rs'?'RHCP (sim.)':datum.label=='Lm'?'LHCP (mea.)':'LHCP (sim.)'"}},
"strokeDash":{"field":"s","type":"nominal","scale":{"domain":["Rm","Rs","Lm","Ls"],"range":[[24,10],[1,0],[46,20],[44,21,11,21]]},"legend":{"orient":"none","legendX":913,"legendY":-155,"title":null,"symbolType":"M-3.28,0L3.28,0","symbolSize":2809,"symbolStrokeWidth":11,"labelFont":"Liberation Serif","labelFontSize":60,"labelColor":"black","labelOffset":85,"labelLimit":1000,"rowPadding":0,"padding":0,"labelExpr":"datum.label=='Rm'?'RHCP (mea.)':datum.label=='Rs'?'RHCP (sim.)':datum.label=='Lm'?'LHCP (mea.)':'LHCP (sim.)'"}}}},
{"data":{"name":"ticks"},"transform":[{"calculate":"44.2*sin(datum.a*PI/180)","as":"lx"},{"calculate":"44.2*cos(datum.a*PI/180)","as":"ly"}],
"mark":{"type":"text","font":"Liberation Serif","fontSize":48,"color":"black","align":"center","baseline":"middle"},
"encoding":{"x":{"field":"lx","type":"quantitative","scale":{"domain":[-40,40],"nice":false},"axis":null},"y":{"field":"ly","type":"quantitative","scale":{"domain":[-40,40],"nice":false},"axis":null},"text":{"field":"a","type":"quantitative","format":"d"}}},
{"data":{"values":[{}]},"mark":{"type":"text","font":"Liberation Serif","fontSize":71,"fontStyle":"italic","color":"black","align":"center","baseline":"alphabetic"},
"encoding":{"x":{"datum":0,"type":"quantitative","scale":{"domain":[-40,40],"nice":false},"axis":null},"y":{"datum":-46.5,"type":"quantitative","scale":{"domain":[-40,40],"nice":false},"axis":null},"text":{"value":"y-z plane"}}}
]}
],
"columns":2,
"spacing":{"row":533,"column":269},
"bounds":"flush",
"resolve":{"scale":{"color":"independent","strokeDash":"independent"}}
}
